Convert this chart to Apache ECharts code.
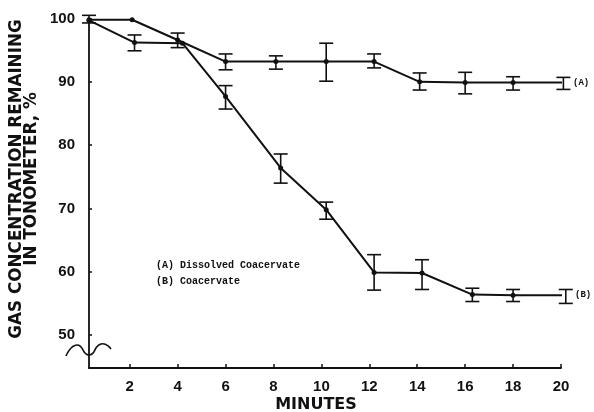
<!DOCTYPE html>
<html>
<head>
<meta charset="utf-8">
<script src="https://cdn.jsdelivr.net/npm/echarts@6/dist/echarts.min.js"></script>
<style>
  html, body { margin: 0; padding: 0; background: #fff; }
  #chart { width: 594px; height: 412px; }
</style>
</head>
<body>
<div id="chart"></div>
<script>
// (A) dissolved coacervate
var aTime  = [0.3, 2.1, 4.0, 6.0, 8.1, 10.2, 12.2, 14.1, 16.0, 18.0, 20.1];
var aValue = [99.8, 99.8, 96.6, 93.2, 93.2, 93.2, 93.2, 90.0, 89.9, 89.9, 89.9];
var aLow   = [99.3, null, 95.4, 91.9, 92.0, 90.1, 92.2, 88.7, 88.1, 88.7, 88.8];
var aHigh  = [100.5, null, 97.7, 94.4, 94.1, 96.1, 94.4, 91.4, 91.5, 90.8, 90.7];

// (B) coacervate
var bTime  = [0.3, 2.2, 4.2, 6.0, 8.3, 10.2, 12.2, 14.2, 16.3, 18.0, 20.2];
var bValue = [99.7, 96.2, 96.1, 87.7, 76.4, 69.8, 59.9, 59.8, 56.4, 56.3, 56.3];
var bLow   = [null, 94.9, null, 85.7, 74.0, 68.3, 57.1, 57.2, 55.3, 55.3, 55.0];
var bHigh  = [null, 97.4, null, 89.4, 78.6, 71.0, 62.7, 61.9, 57.4, 57.2, 57.2];

var xTicks = [2, 4, 6, 8, 10, 12, 14, 16, 18, 20];
var yTicks = [50, 60, 70, 80, 90, 100];

function pairs(t, v) {
  return t.map(function (x, i) { return [x, v[i]]; });
}
function bars(t, lo, hi) {
  var out = [];
  t.forEach(function (x, i) {
    if (lo[i] != null) out.push([x, lo[i], hi[i]]);
  });
  return out;
}

// whisker with caps
function errorItem(params, api) {
  var lo = api.coord([api.value(0), api.value(1)]);
  var hi = api.coord([api.value(0), api.value(2)]);
  var w = 7;
  var st = { stroke: '#111', lineWidth: 1.6 };
  return {
    type: 'group',
    children: [
      { type: 'line', shape: { x1: lo[0], y1: lo[1], x2: hi[0], y2: hi[1] }, style: st },
      { type: 'line', shape: { x1: hi[0] - w, y1: hi[1], x2: hi[0] + w, y2: hi[1] }, style: st },
      { type: 'line', shape: { x1: lo[0] - w, y1: lo[1], x2: lo[0] + w, y2: lo[1] }, style: st }
    ]
  };
}

var axisFont = { fontFamily: 'Liberation Sans', fontWeight: 'bold', fontSize: 15, color: '#111' };
var monoFont = 'Liberation Mono';

var chart = echarts.init(document.getElementById('chart'));
var option = {
  animation: false,
  backgroundColor: '#fff',
  grid: { left: 89, right: 33, top: 18.5, bottom: 44 },
  xAxis: {
    type: 'value',
    min: 0.3,
    max: 20,
    splitLine: { show: false },
    axisLine: { lineStyle: { color: '#111', width: 1.8 } },
    axisTick: { inside: true, length: 4, customValues: xTicks, lineStyle: { color: '#111', width: 1.5 } },
    axisLabel: Object.assign({ margin: 11, customValues: xTicks }, axisFont)
  },
  yAxis: {
    type: 'value',
    min: 44.8,
    max: 100,
    splitLine: { show: false },
    axisLine: { show: true, lineStyle: { color: '#111', width: 1.8 } },
    axisTick: { show: true, inside: true, length: 3, customValues: yTicks, lineStyle: { color: '#111', width: 1.5 } },
    axisLabel: Object.assign({ margin: 14, customValues: yTicks }, axisFont)
  },
  series: [
    {
      name: 'A',
      type: 'line',
      data: pairs(aTime, aValue),
      symbol: 'circle',
      symbolSize: 5,
      itemStyle: { color: '#111' },
      lineStyle: { color: '#111', width: 2 },
      endLabel: {
        show: true, formatter: '(A)', distance: 11,
        fontFamily: monoFont, fontWeight: 'bold', fontSize: 9, color: '#111'
      }
    },
    {
      name: 'B',
      type: 'line',
      data: pairs(bTime, bValue),
      symbol: 'circle',
      symbolSize: 5,
      itemStyle: { color: '#111' },
      lineStyle: { color: '#111', width: 2 },
      endLabel: {
        show: true, formatter: '(B)', distance: 13,
        fontFamily: monoFont, fontWeight: 'bold', fontSize: 9, color: '#111'
      }
    },
    { type: 'custom', renderItem: errorItem, data: bars(aTime, aLow, aHigh), z: 3 },
    { type: 'custom', renderItem: errorItem, data: bars(bTime, bLow, bHigh), z: 3 }
  ],
  graphic: [
    {
      type: 'text', x: 24, y: 179, rotation: Math.PI / 2,
      style: {
        text: 'GAS CONCENTRATION REMAINING\nIN TONOMETER, %',
        font: 'bold 16.8px "DejaVu Sans"', fill: '#111',
        align: 'center', verticalAlign: 'middle', lineHeight: 14.5
      }
    },
    {
      type: 'text', x: 316, y: 405,
      style: {
        text: 'MINUTES', font: 'bold 16px "DejaVu Sans"', fill: '#111',
        align: 'center', verticalAlign: 'middle'
      }
    },
    {
      type: 'text', x: 156, y: 265,
      style: {
        text: '(A) Dissolved Coacervate', font: 'bold 10px "Liberation Mono"', fill: '#111',
        align: 'left', verticalAlign: 'middle'
      }
    },
    {
      type: 'text', x: 156, y: 281,
      style: {
        text: '(B) Coacervate', font: 'bold 10px "Liberation Mono"', fill: '#111',
        align: 'left', verticalAlign: 'middle'
      }
    },
    {
      // axis break squiggle
      type: 'polyline',
      shape: { points: [[66, 356], [77, 345], [89, 355], [101, 344], [111, 349]], smooth: 0.6 },
      style: { stroke: '#111', lineWidth: 1.6, fill: null }
    }
  ]
};
chart.setOption(option);
</script>
</body>
</html>
